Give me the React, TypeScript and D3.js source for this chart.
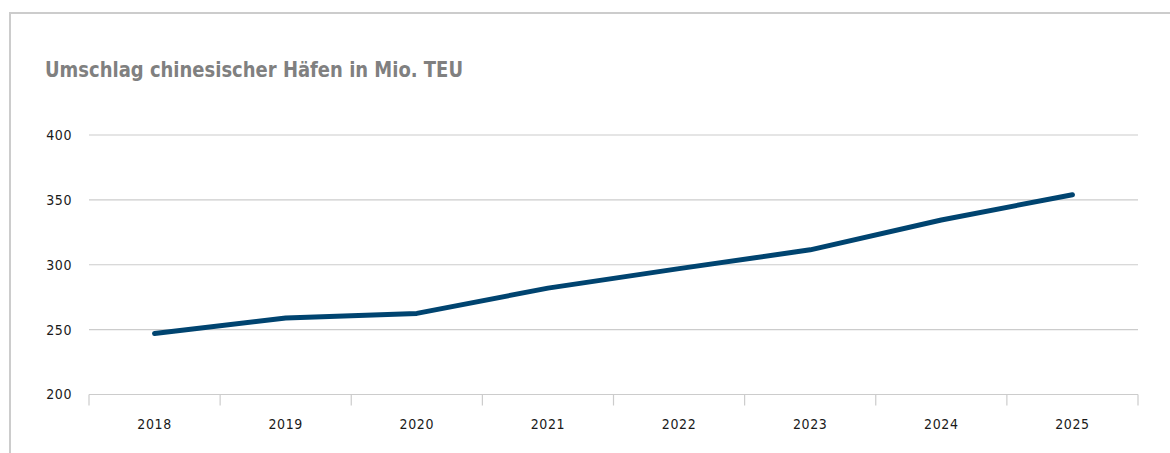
import React from 'react';
import { scaleBand, scaleLinear, line } from 'd3';

const width = 1170;
const height = 453;
const margins = { top: 135, bottom: 58.5, left: 89, right: 32 };

const years = ['2018', '2019', '2020', '2021', '2022', '2023', '2024', '2025'];
const teu = [247, 259, 262.5, 282, 297, 311.5, 334.5, 354];
const yTicks = [200, 250, 300, 350, 400];

const title = 'Umschlag chinesischer Häfen in Mio. TEU';
const font = "'DejaVu Sans Condensed', 'DejaVu Sans', sans-serif";

export default function App() {
  const xScale = scaleBand()
    .domain(years)
    .range([margins.left, width - margins.right]);

  const yScale = scaleLinear()
    .domain([200, 400])
    .range([height - margins.bottom, margins.top]);

  const path = line<number>()
    .x((d, i) => (xScale(years[i]) as number) + xScale.bandwidth() / 2)
    .y((d) => yScale(d))(teu);

  // tick marks at the band edges
  const edges = years.map((y) => xScale(y) as number).concat([width - margins.right]);

  return (
    <svg
      width={width}
      height={height}
      style={{ position: 'absolute', left: 0, top: 0, background: '#fff' }}
    >
      {/* frame */}
      <line x1={9} y1={13} x2={width} y2={13} stroke="#cccccc" strokeWidth={2} />
      <line x1={10} y1={13} x2={10} y2={height} stroke="#cccccc" strokeWidth={2} />

      <text
        x={45}
        y={77}
        fill="#808080"
        fontFamily={font}
        fontWeight="bold"
        fontSize={22}
        textLength={418}
        lengthAdjust="spacingAndGlyphs"
      >
        {title}
      </text>

      {yTicks.map((t) => (
        <g key={t}>
          <line
            x1={margins.left}
            x2={width - margins.right}
            y1={yScale(t)}
            y2={yScale(t)}
            stroke="#cccccc"
            strokeWidth={1.2}
          />
          <text
            x={72}
            y={yScale(t)}
            dy="0.35em"
            textAnchor="end"
            fill="#1a1a1a"
            fontFamily={font}
            fontSize={14}
            letterSpacing={0.6}
          >
            {t}
          </text>
        </g>
      ))}

      {edges.map((x, i) => (
        <line
          key={i}
          x1={x}
          x2={x}
          y1={yScale(200)}
          y2={yScale(200) + 11}
          stroke="#cccccc"
          strokeWidth={1.2}
        />
      ))}

      {years.map((y) => (
        <text
          key={y}
          x={(xScale(y) as number) + xScale.bandwidth() / 2}
          y={424}
          dy="0.35em"
          textAnchor="middle"
          fill="#1a1a1a"
          fontFamily={font}
          fontSize={14}
          letterSpacing={0.6}
        >
          {y}
        </text>
      ))}

      <path
        d={path || ''}
        fill="none"
        stroke="#004470"
        strokeWidth={5}
        strokeLinecap="round"
        strokeLinejoin="round"
      />
    </svg>
  );
}
